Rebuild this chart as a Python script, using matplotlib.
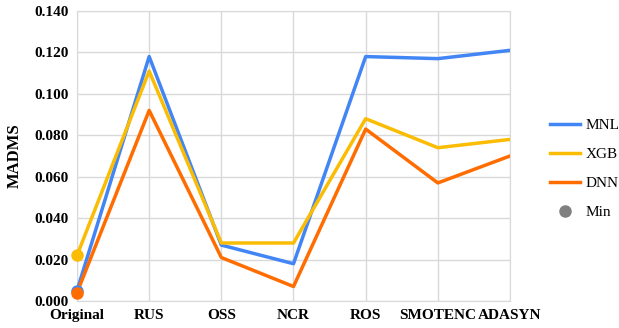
import matplotlib.pyplot as plt
from matplotlib.lines import Line2D

methods = ['Original', 'RUS', 'OSS', 'NCR', 'ROS', 'SMOTENC', 'ADASYN']
mnl = [0.005, 0.118, 0.027, 0.018, 0.118, 0.117, 0.121]
xgb = [0.022, 0.111, 0.028, 0.028, 0.088, 0.074, 0.078]
dnn = [0.004, 0.092, 0.021, 0.007, 0.083, 0.057, 0.070]

plt.rcParams['font.family'] = ['Liberation Serif', 'DejaVu Serif']

fig = plt.figure(figsize=(6.19, 3.28), dpi=100)
ax = fig.add_axes([0.1244, 0.0823, 0.6995, 0.8842])

x = list(range(len(methods)))
colors = {'MNL': '#4285F4', 'XGB': '#FBBC04', 'DNN': '#FF6D01'}

ax.plot(x, mnl, color=colors['MNL'], lw=2.5, label='MNL', zorder=3)
ax.plot(x, xgb, color=colors['XGB'], lw=2.5, label='XGB', zorder=3)
ax.plot(x, dnn, color=colors['DNN'], lw=2.5, label='DNN', zorder=3)

# min points at Original
ax.plot(x[0], mnl[0], 'o', color=colors['MNL'], ms=8, zorder=4, clip_on=False)
ax.plot(x[0], xgb[0], 'o', color=colors['XGB'], ms=8, zorder=4, clip_on=False)
ax.plot(x[0], dnn[0], 'o', color=colors['DNN'], ms=8, zorder=4, clip_on=False)

ax.set_xlim(0, len(methods) - 1)
ax.set_ylim(0, 0.14)
ax.set_xticks(x)
ax.set_xticklabels(methods, fontweight='bold', fontsize=11)
ax.set_yticks([i * 0.02 for i in range(8)])
ax.set_yticklabels([f'{i * 0.02:.3f}' for i in range(8)], fontweight='bold', fontsize=11)
ax.set_ylabel('MADMS', fontweight='bold', fontsize=12, labelpad=8)

ax.grid(True, color='#d9d9d9', lw=1)
ax.set_axisbelow(True)
for s in ax.spines.values():
    s.set_color('#d9d9d9')
ax.tick_params(length=0, pad=6)

handles = [Line2D([], [], color=colors['MNL'], lw=2.5),
           Line2D([], [], color=colors['XGB'], lw=2.5),
           Line2D([], [], color=colors['DNN'], lw=2.5),
           Line2D([], [], marker='o', color='#808080', ls='none', ms=8)]
fig.legend(handles, ['MNL', 'XGB', 'DNN', 'Min'], loc='center left',
           bbox_to_anchor=(0.866, 0.485), frameon=False, fontsize=11,
           handlelength=2.0, labelspacing=1.0, handletextpad=0.35)

fig.savefig('out.png', dpi=100)
